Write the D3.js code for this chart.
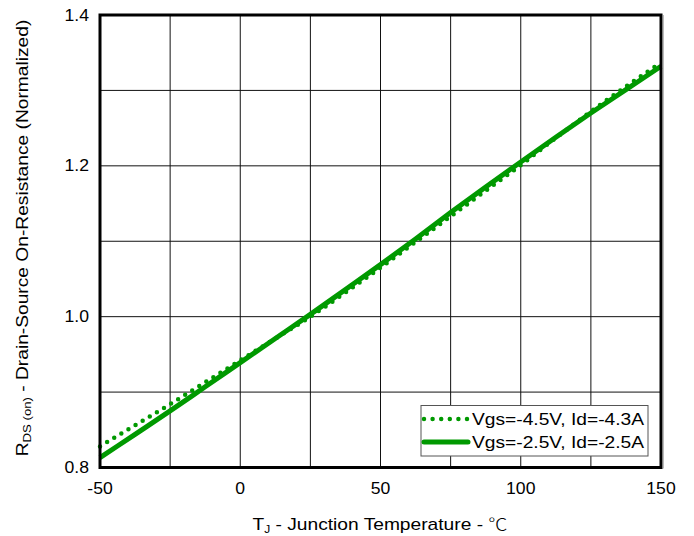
<!DOCTYPE html>
<html>
<head>
  <meta charset="utf-8">
  <title>RDS(on) vs Junction Temperature</title>
  <style>
    body { margin: 0; background: #fff; font-family: 'Liberation Sans', Arial, sans-serif; }
    text { fill: #000; }
  </style>
</head>
<body>
  <div id="chart"></div>
  <script src="https://d3js.org/d3.v7.min.js"></script>
  <script>
    var width = 694, height = 536;

    // data
    var temps = [-50, -37.5, -25, -12.5, 0, 12.5, 25, 37.5, 50, 62.5, 75, 87.5, 100, 112.5, 125, 137.5, 150];
    var rdsLow = [0.828, 0.856, 0.884, 0.913, 0.942, 0.971, 1.000, 1.032, 1.065, 1.099, 1.133, 1.167, 1.201, 1.237, 1.272, 1.305, 1.337];
    var rdsHigh = [0.813, 0.844, 0.875, 0.907, 0.939, 0.971, 1.003, 1.036, 1.069, 1.103, 1.138, 1.172, 1.205, 1.238, 1.270, 1.301, 1.332];
    var seriesNames = ["Vgs=-4.5V, Id=-4.3A", "Vgs=-2.5V, Id=-2.5A"];
    var xTicks = [-50, 0, 50, 100, 150];
    var yTicks = [0.8, 1.0, 1.2, 1.4];
    var xGrid = d3.range(-50, 151, 25);
    var yGrid = d3.range(0.8, 1.401, 0.1);

    var green = "#009900";
    var stretch = 1.2; // the reference text is drawn wide

    var x = d3.scaleLinear().domain([-50, 150]).range([100, 661]);
    var y = d3.scaleLinear().domain([0.8, 1.4]).range([467.5, 15]);

    var svg = d3.select("#chart").append("svg")
      .attr("width", width)
      .attr("height", height);

    // grid
    svg.append("g").selectAll("line")
      .data(xGrid)
      .enter().append("line")
      .attr("x1", d => x(d)).attr("x2", d => x(d))
      .attr("y1", y(0.8)).attr("y2", y(1.4))
      .attr("stroke", "#111").attr("stroke-width", 1);

    svg.append("g").selectAll("line")
      .data(yGrid)
      .enter().append("line")
      .attr("x1", x(-50)).attr("x2", x(150))
      .attr("y1", d => y(d)).attr("y2", d => y(d))
      .attr("stroke", "#111").attr("stroke-width", 1);

    var line = d3.line()
      .x((d, i) => x(temps[i]))
      .y(d => y(d))
      .curve(d3.curveMonotoneX);

    // solid series
    svg.append("path")
      .datum(rdsHigh)
      .attr("d", line)
      .attr("fill", "none")
      .attr("stroke", green)
      .attr("stroke-width", 5);

    // dotted series
    svg.append("path")
      .datum(rdsLow)
      .attr("d", line)
      .attr("fill", "none")
      .attr("stroke", green)
      .attr("stroke-width", 4.5)
      .attr("stroke-linecap", "round")
      .attr("stroke-dasharray", "0 8.3");

    // frame
    svg.append("rect")
      .attr("x", x(-50)).attr("y", y(1.4))
      .attr("width", x(150) - x(-50)).attr("height", y(0.8) - y(1.4))
      .attr("fill", "none")
      .attr("stroke", "#000")
      .attr("stroke-width", 3);
    svg.append("line")
      .attr("x1", x(150) + 2.5).attr("x2", x(150) + 2.5)
      .attr("y1", y(1.4)).attr("y2", y(0.8) + 1)
      .attr("stroke", "#bbb").attr("stroke-width", 1);

    // tick labels
    svg.append("g").selectAll("text")
      .data(xTicks)
      .enter().append("text")
      .attr("transform", d => "translate(" + x(d) + ",494) scale(1.1,1)")
      .attr("text-anchor", "middle")
      .style("font-size", "16px")
      .text(d => d);

    svg.append("g").selectAll("text")
      .data(yTicks)
      .enter().append("text")
      .attr("transform", d => "translate(89," + y(d) + ") scale(1.1,1)")
      .attr("dy", "0.35em")
      .attr("text-anchor", "end")
      .style("font-size", "16px")
      .text(d => d3.format(".1f")(d));

    // axis titles
    var xt = svg.append("text")
      .attr("transform", "translate(380,530) scale(" + stretch + ",1)")
      .attr("text-anchor", "middle")
      .style("font-size", "16px");
    xt.append("tspan").text("T");
    xt.append("tspan").attr("baseline-shift", "-25%").style("font-size", "10px").text("J");
    xt.append("tspan").text(" - Junction Temperature - ");
    xt.append("tspan").style("font-family", "'Noto Sans CJK SC', sans-serif").style("font-weight", "300").text("\u2103");

    var yt = svg.append("text")
      .attr("transform", "translate(28,238) rotate(-90) scale(" + stretch + ",1)")
      .attr("text-anchor", "middle")
      .style("font-size", "16px");
    yt.append("tspan").text("R");
    yt.append("tspan").attr("baseline-shift", "-25%").style("font-size", "11px").text("DS (on)");
    yt.append("tspan").text(" - Drain-Source On-Resistance (Normalized)");

    // legend
    var lg = svg.append("g");
    lg.append("rect")
      .attr("x", 421).attr("y", 405.5)
      .attr("width", 227).attr("height", 50.5)
      .attr("fill", "#fff")
      .attr("stroke", "#555")
      .attr("stroke-width", 1);

    var items = lg.selectAll("g")
      .data(seriesNames)
      .enter().append("g")
      .attr("transform", (d, i) => "translate(0," + (419 + i * 23) + ")");

    items.append("line")
      .attr("x1", 424)
      .attr("x2", 468)
      .attr("y1", 0).attr("y2", 0)
      .attr("stroke", green)
      .attr("stroke-width", (d, i) => i == 0 ? 4.5 : 5)
      .attr("stroke-linecap", "round")
      .attr("stroke-dasharray", (d, i) => i == 0 ? "0 8.6" : null);

    items.append("text")
      .attr("transform", "translate(472,0) scale(1.2,1)")
      .attr("dy", "0.36em")
      .style("font-size", "16px")
      .text(d => d);
  </script>
</body>
</html>
